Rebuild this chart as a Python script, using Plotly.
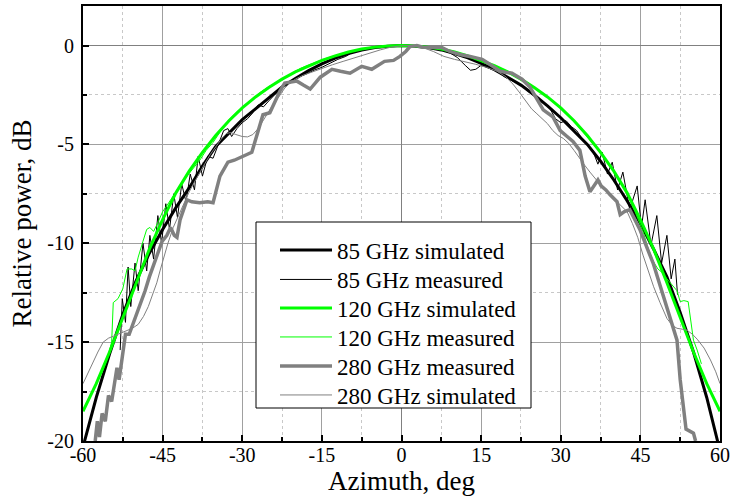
import plotly.graph_objects as go

# ---------------- data ----------------
x_85_sim = [-60, -57.5, -55, -52.5, -50, -47.5, -45, -42.5, -40, -37.5, -35, -32.5, -30, -27.5, -25,
            -22.5, -20, -17.5, -15, -12.5, -10, -7.5, -5, -2.5, 0, 2.5, 5, 7.5, 10, 12.5, 15, 17.5,
            20, 22.5, 25, 27.5, 30, 32.5, 35, 37.5, 40, 42.5, 45, 47.5, 50, 52.5, 55, 57.5, 60]
y_85_sim = [-20.3, -17.8, -15.6, -13.6, -11.9, -10.5, -9.3, -8.2, -7.2, -6.1, -5.1, -4.4, -3.75, -3.2,
            -2.65, -2.1, -1.67, -1.27, -0.93, -0.64, -0.41, -0.23, -0.10, -0.03, 0.0, -0.03, -0.10,
            -0.22, -0.40, -0.62, -0.90, -1.22, -1.60, -2.0, -2.5, -3.05, -3.65, -4.3, -5.0, -5.85,
            -6.8, -7.85, -9.0, -10.3, -11.7, -13.5, -15.5, -17.8, -20.5]

x_85_meas = [-53.0, -52.6, -52.0, -51.5, -51.0, -50.2, -49.6, -48.7, -48.0, -47.4, -46.7, -45.9, -45.2,
             -44.4, -43.7, -42.9, -42.2, -41.4, -40.6, -39.8, -39.0, -38.3, -37.5, -36.5, -35.5,
             -34.5, -33.5, -32.7, -32.0, -31.0, -30.0, -29.0, -28.0, -27.0, -26.0, -25.0, -24.0,
             -22.5, -21.0, -19.5, -18.0, -16.5, -15.0, -13.5, -12.0, -10.5, -9.0, -7.5, -6.0, -4.5,
             -3.0, -1.5, 0.0, 1.5, 3.0, 4.5, 6.0, 7.5, 9.0, 10.5, 12.0, 13.0, 14.0, 15.0, 16.5, 18.0,
             19.5, 21.0, 22.5, 24.0, 25.5, 27.0, 28.0, 29.0, 30.0, 31.0, 32.0, 33.0, 34.0, 35.0, 36.0,
             37.0, 37.8, 38.8, 39.7, 40.7, 41.7, 43.0, 44.4, 45.2, 45.9, 47.0, 48.1, 49.0, 50.0,
             50.8, 51.5, 52.0]
y_85_meas = [-15.4, -12.8, -14.0, -11.2, -13.2, -11.0, -12.4, -10.0, -11.4, -9.6, -10.8, -8.6, -10.0,
             -8.0, -9.3, -7.5, -8.7, -7.0, -7.9, -6.5, -7.3, -5.6, -6.6, -5.6, -5.7, -5.0, -4.3, -4.2,
             -4.6, -4.2, -3.9, -3.7, -3.4, -3.0, -3.1, -2.8, -2.5, -2.1, -1.85, -1.6, -1.45, -1.25,
             -1.1, -0.9, -0.7, -0.55, -0.3, -0.2, -0.12, -0.08, -0.03, -0.02, 0.0, -0.02, -0.05,
             -0.1, -0.15, -0.22, -0.35, -0.6, -1.0, -1.25, -1.2, -1.0, -1.15, -1.3, -1.6, -1.8, -2.0,
             -2.35, -2.65, -2.9, -3.2, -3.7, -3.9, -3.8, -4.1, -4.3, -4.7, -5.0, -5.3, -6.0, -5.4,
             -6.5, -5.9, -7.3, -6.4, -8.3, -7.1, -9.2, -7.8, -10.1, -8.6, -11.0, -9.6, -11.8, -10.8,
             -12.6]

x_120_sim = [-60, -57.5, -55, -52.5, -50, -47.5, -45, -42.5, -40, -37.5, -35, -32.5, -30, -27.5, -25,
             -22.5, -20, -17.5, -15, -12.5, -10, -7.5, -5, -2.5, 0, 2.5, 5, 7.5, 10, 12.5, 15, 17.5,
             20, 22.5, 25, 27.5, 30, 32.5, 35, 37.5, 40, 42.5, 45, 47.5, 50, 52.5, 55, 57.5, 60]
y_120_sim = [-18.5, -17.1, -15.5, -13.8, -12.0, -10.3, -8.8, -7.45, -6.35, -5.4, -4.55, -3.8, -3.15,
             -2.6, -2.12, -1.7, -1.33, -1.02, -0.75, -0.52, -0.33, -0.18, -0.08, -0.02, 0.0, -0.02,
             -0.08, -0.18, -0.33, -0.52, -0.75, -1.02, -1.33, -1.7, -2.12, -2.6, -3.15, -3.8, -4.55,
             -5.4, -6.35, -7.45, -8.8, -10.3, -12.0, -13.8, -15.5, -17.1, -18.5]

x_120_meas = [-56.5, -55.5, -54.6, -54.3, -53.4, -52.5, -51.7, -50.8, -50.2, -49.6, -48.7, -48.0,
              -47.4, -46.7, -45.8, -45.0, -44.2, -43.0, -41.8, -40.4, -39.2, -38.0, -36.8, -35.5,
              -34.0, -32.5, -31.0, -29.5, -28.0, -26.5, -25.0, -23.5, -22.0, -20.5, -19.0, -17.5,
              -16.0, -14.5, -13.0, -11.5, -10.0, -8.5, -7.0, -5.5, -4.0, -2.5, -1.0, 0.5, 2.0, 3.5,
              5.0, 6.5, 8.0, 9.5, 11.0, 12.5, 14.0, 15.5, 17.0, 18.5, 20.0, 21.5, 23.0, 24.5, 26.0,
              27.5, 29.0, 30.5, 32.0, 33.5, 35.0, 36.5, 38.0, 39.5, 41.0, 42.5, 44.0, 45.5, 46.5,
              47.4, 48.3, 49.2, 50.0, 51.0, 51.9, 52.5, 53.2, 54.0, 54.4, 55.0, 55.7, 56.5]
y_120_meas = [-16.6, -15.9, -15.0, -13.0, -12.8, -12.3, -11.3, -11.3, -11.4, -10.7, -9.9, -9.3, -9.2,
              -9.4, -8.9, -8.4, -8.1, -7.6, -7.1, -6.6, -6.2, -5.8, -5.3, -4.9, -4.3, -3.75, -3.35,
              -3.0, -2.7, -2.35, -2.08, -1.85, -1.6, -1.35, -1.15, -0.98, -0.82, -0.68, -0.55, -0.42,
              -0.32, -0.22, -0.14, -0.09, -0.05, -0.02, 0.0, -0.01, -0.03, -0.05, -0.08, -0.13, -0.2,
              -0.29, -0.4, -0.5, -0.64, -0.78, -0.95, -1.12, -1.3, -1.5, -1.75, -2.0, -2.3, -2.6,
              -2.95, -3.3, -3.7, -4.15, -4.6, -5.1, -5.6, -6.1, -6.8, -7.5, -8.4, -9.4, -10.3, -10.9,
              -11.3, -11.5, -11.8, -12.1, -12.4, -12.95, -12.9, -12.95, -13.7, -14.9, -15.4, -16.1]

x_280_meas = [-57.7, -57.3, -56.9, -56.4, -55.8, -55.2, -54.6, -54.1, -53.6, -53.2, -52.6, -52.0,
              -51.3, -50.6, -49.8, -49.2, -48.3, -47.5, -46.8, -45.9, -45.1, -44.2, -43.5, -42.8,
              -42.3, -41.7, -41.2, -40.4, -39.5, -38.0, -36.5, -35.5, -34.2, -32.7, -31.5, -30.0,
              -28.2, -27.2, -26.1, -24.8, -22.9, -22.0, -19.7, -18.5, -17.2, -15.3, -13.1, -11.5,
              -9.7, -7.5, -5.6, -3.2, -1.5, -0.3, 0.8, 1.6, 2.9, 4.0, 5.4, 7.6, 9.1, 11.0, 12.9,
              15.2, 16.7, 18.6, 20.8, 22.7, 24.2, 25.5, 26.7, 28.5, 29.9, 31.2, 32.3, 33.6, 34.1,
              34.6, 35.5, 36.3, 37.0, 37.6, 38.5, 39.3, 40.6, 41.2, 42.0, 43.0, 44.0, 44.9, 46.2,
              47.4, 48.1, 49.1, 50.2, 51.2, 51.9, 52.5, 53.0, 53.6, 54.3, 55.0, 55.4]
y_280_meas = [-20.0, -19.0, -19.8, -18.6, -19.0, -17.7, -18.0, -17.0, -16.3, -16.9, -15.6, -14.6,
              -14.6, -14.1, -13.5, -13.1, -12.4, -11.7, -11.2, -10.5, -9.9, -9.6, -9.2, -9.6, -9.7,
              -8.8, -8.4, -7.8, -7.9, -7.95, -7.9, -7.95, -6.6, -5.9, -5.8, -5.6, -5.4, -4.5, -3.5,
              -3.4, -2.3, -1.9, -1.8, -2.0, -2.2, -1.6, -1.2, -1.3, -1.4, -1.05, -1.2, -0.8, -0.75,
              -0.55, -0.3, -0.05, 0.0, -0.08, -0.1, -0.1, -0.3, -0.45, -0.55, -0.7, -0.96, -1.3,
              -1.4, -1.7, -2.1, -2.7, -3.25, -3.6, -4.3, -4.6, -4.85, -5.3, -6.0, -6.6, -7.4, -7.1,
              -6.8, -7.1, -7.3, -7.55, -7.9, -8.55, -8.4, -8.3, -8.8, -9.3, -10.2, -11.0, -11.6,
              -12.5, -13.5, -14.4, -14.9, -16.9, -18.2, -19.4, -19.5, -19.6, -20.0]

x_280_sim = [-60.0, -59.0, -58.1, -57.2, -56.2, -55.2, -54.3, -53.0, -51.8, -50.7, -49.6, -48.6,
             -47.7, -46.9, -46.1, -45.5, -44.9, -44.0, -43.0, -42.0, -41.0, -40.0, -39.0, -38.0,
             -37.0, -36.0, -35.0, -34.0, -33.0, -32.2, -31.2, -30.0, -29.0, -28.0, -27.0, -26.0,
             -25.0, -24.0, -23.0, -22.0, -21.0, -20.0, -18.5, -17.0, -15.0, -13.0, -11.0, -8.5,
             -6.0, -4.0, -2.0, 0.0, 2.0, 4.0, 6.0, 8.0, 10.0, 12.0, 14.0, 16.0, 18.0, 19.5, 21.0,
             22.3, 23.5, 24.5, 25.5, 26.5, 27.5, 28.5, 29.5, 30.5, 31.5, 32.5, 33.5, 34.5, 35.5,
             36.5, 37.5, 38.5, 39.5, 40.5, 41.5, 42.5, 43.5, 44.5, 45.5, 46.5, 47.5, 48.7, 50.0,
             51.0, 51.9, 53.0, 53.8, 54.8, 55.7, 57.0, 58.2, 59.2, 60.0]
y_280_sim = [-17.1, -16.5, -16.0, -15.5, -15.0, -14.8, -14.7, -14.55, -14.4, -14.3, -14.1, -13.7,
             -13.2, -12.6, -12.0, -11.4, -10.8, -10.0, -9.2, -8.6, -8.0, -7.4, -6.9, -6.4, -5.95,
             -5.5, -5.1, -4.75, -4.45, -4.4, -4.5, -4.6, -4.62, -4.5, -4.2, -3.75, -3.3, -2.9,
             -2.55, -2.15, -1.9, -1.7, -1.5, -1.35, -1.15, -0.97, -0.8, -0.58, -0.38, -0.22, -0.08,
             -0.01, 0.0, -0.1, -0.3, -0.55, -0.7, -0.82, -0.95, -1.1, -1.3, -1.55, -1.95, -2.4,
             -2.85, -3.2, -3.45, -3.7, -3.95, -4.3, -4.55, -4.7, -4.95, -5.3, -5.7, -6.05, -6.4,
             -6.75, -7.05, -7.35, -7.6, -7.85, -8.1, -8.4, -9.0, -9.7, -10.6, -11.4, -12.2, -13.0,
             -13.8, -14.15, -14.3, -14.35, -14.4, -14.6, -14.85, -15.3, -15.9, -16.5, -17.1]

x_ticks = [-60, -45, -30, -15, 0, 15, 30, 45, 60]
y_ticks = [-20, -15, -10, -5, 0]

series = [
    ("85 GHz simulated", x_85_sim, y_85_sim, "#000000", 3),
    ("85 GHz measured", x_85_meas, y_85_meas, "#000000", 1),
    ("120 GHz simulated", x_120_sim, y_120_sim, "#00ff00", 3),
    ("120 GHz measured", x_120_meas, y_120_meas, "#00ff00", 1),
    ("280 GHz measured", x_280_meas, y_280_meas, "#808080", 3.5),
    ("280 GHz simulated", x_280_sim, y_280_sim, "#808080", 1),
]

FONT = "Liberation Serif, Times New Roman, serif"

# plot area in pixels
L, R, T, B = 83, 720, 6, 441
W, H = 735, 502
PW, PH = R - L, B - T


def px_x(p):
    return (p - L) / PW


def px_y(p):
    return (B - p) / PH


# legend rows (pixel centres) and box
LEG_ROWS = [250, 279.5, 308, 337, 366, 395]
LEG_X = 275

fig = go.Figure()
legend_layouts = {}
for i, (name, xs, ys, col, w) in enumerate(series):
    lname = "legend" if i == 0 else f"legend{i + 1}"
    fig.add_trace(go.Scatter(x=xs, y=ys, mode="lines", name=name, legend=lname,
                             line=dict(color=col, width=w)))
    legend_layouts[lname] = dict(
        x=px_x(LEG_X), y=px_y(LEG_ROWS[i]), xanchor="left", yanchor="middle",
        bgcolor="rgba(0,0,0,0)", borderwidth=0,
        font=dict(family=FONT, size=23, color="black"),
        itemwidth=52, tracegroupgap=0,
    )

axis_common = dict(
    showline=True, linecolor="black", linewidth=2, mirror=True,
    ticks="inside", ticklen=6, tickwidth=1.5, tickcolor="black",
    showgrid=True, gridcolor="#a0a0a0", gridwidth=1,
    zeroline=True, zerolinecolor="#808080", zerolinewidth=1,
    tickfont=dict(family=FONT, size=20, color="black"),
    title_font=dict(family=FONT, size=27, color="black"),
    automargin=False,
)

fig.update_xaxes(range=[-60, 60], tickvals=x_ticks, ticktext=[str(v) for v in x_ticks],
                 title_text="Azimuth, deg", title_standoff=0, ticklabelstandoff=-5,
                 minor=dict(dtick=7.5, tick0=0, ticks="inside", ticklen=4, tickcolor="black",
                            showgrid=True, gridcolor="#c8c8c8", griddash="dot", gridwidth=1),
                 **axis_common)
fig.update_yaxes(range=[-20, 2], tickvals=y_ticks, ticktext=[str(v) for v in y_ticks],
                 title_text="Relative power, dB", title_standoff=8, ticklabelstandoff=3,
                 minor=dict(dtick=2.5, tick0=0, ticks="inside", ticklen=4, tickcolor="black",
                            showgrid=True, gridcolor="#c8c8c8", griddash="dot", gridwidth=1),
                 **axis_common)

# legend frame (white box under the legend entries)
fig.add_shape(type="rect", xref="paper", yref="paper",
              x0=px_x(256), x1=px_x(531), y0=px_y(408), y1=px_y(222),
              line=dict(color="black", width=1), fillcolor="white", layer="above")

fig.update_layout(
    width=W, height=H,
    margin=dict(l=L, r=W - R, t=T, b=H - B, autoexpand=False),
    paper_bgcolor="white", plot_bgcolor="white",
    font=dict(family=FONT, size=20, color="black"),
    showlegend=True,
    **legend_layouts,
)

fig.write_html("out.html", config={"displayModeBar": False},
               post_script="document.body.style.margin='0';document.body.style.padding='0';"
                           "document.body.style.overflow='hidden';")
